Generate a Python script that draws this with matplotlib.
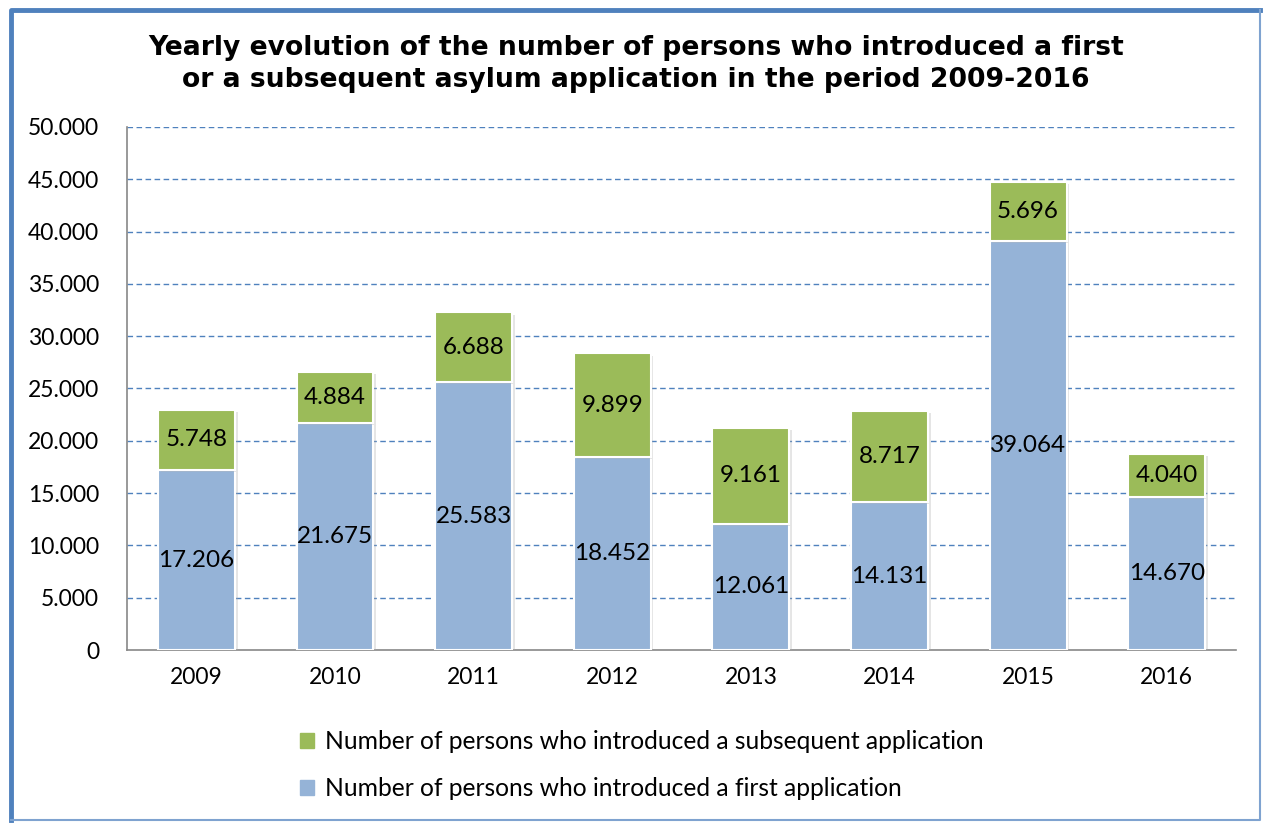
import numpy as np
import matplotlib.pyplot as plt
from matplotlib.patches import Patch
from matplotlib.lines import Line2D
import matplotlib.patheffects as pe

years = ['2009', '2010', '2011', '2012', '2013', '2014', '2015', '2016']
first_app = [17206, 21675, 25583, 18452, 12061, 14131, 39064, 14670]
subsequent_app = [5748, 4884, 6688, 9899, 9161, 8717, 5696, 4040]

first_label = 'Number of persons who introduced a first application'
subs_label = 'Number of persons who introduced a subsequent application'
title = ('Yearly evolution of the number of persons who introduced a first\n'
         'or a subsequent asylum application in the period 2009-2016')

blue = '#95B3D7'
green = '#9BBB59'
body_font = ['Lato', 'DejaVu Sans']

def fmt(v):
    return f'{v:,}'.replace(',', '.')

fig = plt.figure(figsize=(12.63, 8.23), dpi=100)
ax = fig.add_axes([0.1006, 0.2102, 0.878, 0.6355])

# figure border: thick on left/top, thin on right/bottom
fig.add_artist(Line2D([0.0085, 0.0085, 0.9975], [0.0035, 0.9875, 0.9875], transform=fig.transFigure,
                      color='#4F81BD', linewidth=3.5))
fig.add_artist(Line2D([0.0085, 0.9975, 0.9975], [0.0035, 0.0035, 0.9875], transform=fig.transFigure,
                      color='#7FA3D0', linewidth=1.5))

x = np.arange(len(years))
w = 0.555
shadow = [pe.SimplePatchShadow(offset=(2, -1.5), shadow_rgbFace='#aaaaaa', alpha=0.3), pe.Normal()]
b1 = ax.bar(x, first_app, w, color=blue, edgecolor='white', linewidth=1.5, zorder=3)
b2 = ax.bar(x, subsequent_app, w, bottom=first_app, color=green, edgecolor='white',
            linewidth=1.5, zorder=3)
for b in list(b1) + list(b2):
    b.set_path_effects(shadow)

for i in range(len(years)):
    ax.text(x[i], first_app[i] / 2, fmt(first_app[i]), ha='center', va='center',
            fontsize=17.5, family=body_font, zorder=4)
    ax.text(x[i], first_app[i] + subsequent_app[i] / 2, fmt(subsequent_app[i]),
            ha='center', va='center', fontsize=17.5, family=body_font, zorder=4)

ax.set_xlim(-0.5, len(years) - 0.5)
ax.set_ylim(0, 50000)
ax.set_yticks(np.arange(0, 50001, 5000))
ax.set_yticklabels([fmt(v) for v in range(0, 50001, 5000)], family=body_font, fontsize=16.5)
ax.set_xticks(x)
ax.set_xticklabels(years, family=body_font, fontsize=16.5)
ax.tick_params(length=0, pad=12)
ax.tick_params(axis='y', pad=20)

for yv in range(5000, 50001, 5000):
    ax.axhline(yv, color='#4F81BD', linestyle=(0, (4, 2.5)), linewidth=1, zorder=1)

for s in ['top', 'right']:
    ax.spines[s].set_visible(False)
ax.spines['left'].set_color('#888888')
ax.spines['bottom'].set_color('#888888')
ax.spines['left'].set_linewidth(1.2)
ax.spines['bottom'].set_linewidth(1.2)

fig.text(0.5035, 0.922, title, ha='center', va='center', fontsize=19.2,
         fontweight='bold', family='DejaVu Sans', linespacing=1.28)

handles = [Patch(color=green, label=subs_label), Patch(color=blue, label=first_label)]
fig.legend(handles=handles, loc='upper left', bbox_to_anchor=(0.220, 0.140),
           frameon=False, prop={'family': body_font, 'size': 17.7},
           handlelength=0.55, handleheight=0.55, handletextpad=0.45, labelspacing=1.0)

fig.savefig('out.png', dpi=100)
